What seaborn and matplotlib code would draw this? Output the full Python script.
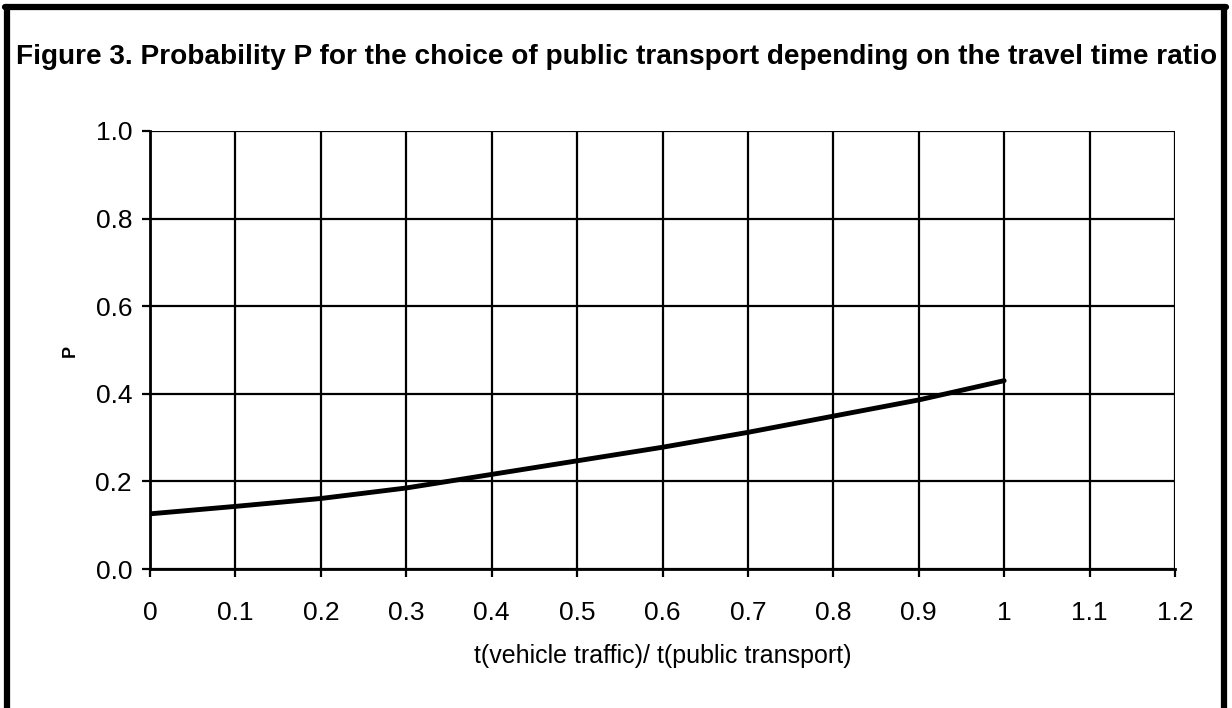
import matplotlib
matplotlib.use("Agg")
import matplotlib.pyplot as plt
import seaborn as sns
import pandas as pd
from matplotlib.lines import Line2D

# values
ratio = [0.0, 0.1, 0.2, 0.3, 0.4, 0.5, 0.6, 0.7, 0.8, 0.9, 1.0]
prob = [0.126, 0.143, 0.161, 0.185, 0.216, 0.247, 0.278, 0.312, 0.349, 0.386, 0.430]
x_ticks = [0, 0.1, 0.2, 0.3, 0.4, 0.5, 0.6, 0.7, 0.8, 0.9, 1, 1.1, 1.2]
x_tick_labels = ["0", "0.1", "0.2", "0.3", "0.4", "0.5", "0.6", "0.7", "0.8", "0.9", "1", "1.1", "1.2"]
y_ticks = [0.0, 0.2, 0.4, 0.6, 0.8, 1.0]

title = "Figure 3. Probability P for the choice of public transport depending on the travel time ratio"

sns.set_theme(style="white")
plt.rcParams["font.family"] = ["Liberation Sans", "DejaVu Sans"]

df = pd.DataFrame({"ratio": ratio, "P": prob})

fig = plt.figure(figsize=(12.32, 7.08), dpi=100)
ax = fig.add_axes([0.1218, 0.1963, 0.8319, 0.6187])

sns.lineplot(data=df, x="ratio", y="P", ax=ax, color="black", linewidth=3.5)

ax.set_xlim(0, 1.2)
ax.set_ylim(0, 1.0)
ax.set_xticks(x_ticks)
ax.set_xticklabels(x_tick_labels)
ax.set_yticks(y_ticks)
ax.set_yticklabels([f"{v:.1f}" for v in y_ticks])

ax.grid(True, color="black", linewidth=1.6)
ax.set_axisbelow(True)
for side in ["top", "right"]:
    ax.spines[side].set_visible(False)
for side in ["left", "bottom"]:
    ax.spines[side].set_color("black")
    ax.spines[side].set_linewidth(2)

ax.tick_params(axis="both", which="major", direction="out", length=6, width=1.6,
               color="black", labelsize=19, labelcolor="black", pad=7,
               bottom=True, left=True)
ax.tick_params(axis="x", pad=17)

ax.set_xlabel("t(vehicle traffic)/ t(public transport)", fontsize=18, color="black", labelpad=14)
ax.set_ylabel("")
fig.text(0.057, 0.505, "P", rotation=90, fontsize=13, fontweight="bold",
         ha="center", va="center", color="black")

fig.text(0.013, 0.92, title, fontsize=20.2, fontweight="bold", color="black",
         ha="left", va="center")

# frame around the figure (left, top, right)
fig.add_artist(Line2D([0.006, 0.006], [0.0, 0.99], transform=fig.transFigure,
                      color="black", linewidth=4.5))
fig.add_artist(Line2D([0.004, 0.9955], [0.99, 0.99], transform=fig.transFigure,
                      color="black", linewidth=4.5))
fig.add_artist(Line2D([0.9935, 0.9935], [0.0, 0.99], transform=fig.transFigure,
                      color="black", linewidth=4.5))

fig.savefig("out.png", dpi=100, facecolor="white")
